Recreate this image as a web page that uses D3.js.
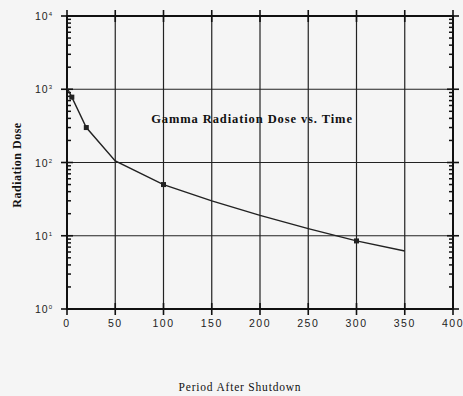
<!DOCTYPE html>
<html>
<head>
<meta charset="utf-8">
<script src="https://cdn.jsdelivr.net/npm/d3@7"></script>
<style>
  body { margin: 0; background: #f5f5f5; }
  svg { display: block; }
</style>
</head>
<body>
<script>
// data
var periods = [0, 5, 20, 50, 100, 150, 200, 250, 300, 350];
var doses = [1050, 780, 300, 105, 50, 30, 19, 12.5, 8.5, 6.2];
var markerIdx = [1, 2, 4, 8];
var xTicks = [0, 50, 100, 150, 200, 250, 300, 350, 400];
var yExps = [0, 1, 2, 3, 4];

var W = 463, H = 396;
var pLeft = 67, pRight = 453, pTop = 16, pBottom = 309;

var svg = d3.select("body").append("svg")
	.attr("width", W)
	.attr("height", H);

svg.append("rect").attr("width", W).attr("height", H).attr("fill", "#f5f5f5");

var x = d3.scaleLinear().domain([0, 400]).range([pLeft, pRight]);
var y = d3.scaleLog().domain([1, 10000]).range([pBottom, pTop]);

var g = svg.append("g");

// grid
g.selectAll(".vg").data(xTicks.slice(1, -1)).enter().append("line")
	.attr("x1", function(d) { return x(d); }).attr("x2", function(d) { return x(d); })
	.attr("y1", pTop).attr("y2", pBottom)
	.attr("stroke", "#222").attr("stroke-width", 1.2);

g.selectAll(".hg").data(yExps.slice(1, -1)).enter().append("line")
	.attr("x1", pLeft).attr("x2", pRight)
	.attr("y1", function(d) { return y(Math.pow(10, d)); })
	.attr("y2", function(d) { return y(Math.pow(10, d)); })
	.attr("stroke", "#222").attr("stroke-width", 1.2);

// frame
g.append("rect")
	.attr("x", pLeft).attr("y", pTop)
	.attr("width", pRight - pLeft).attr("height", pBottom - pTop)
	.attr("fill", "none").attr("stroke", "#111").attr("stroke-width", 2);

// minor ticks on left and right, pointing inward
var minors = [];
for (var e = 0; e < 4; e++) {
	for (var m = 2; m < 10; m++) minors.push(m * Math.pow(10, e));
}
[pLeft, pRight].forEach(function(px, i) {
	var dir = i == 0 ? 1 : -1;
	g.selectAll(".mt" + i).data(minors).enter().append("line")
		.attr("x1", px).attr("x2", px + dir * 4)
		.attr("y1", function(d) { return y(d); }).attr("y2", function(d) { return y(d); })
		.attr("stroke", "#111").attr("stroke-width", 1.5);
	// major ticks crossing the frame
	g.selectAll(".Mt" + i).data(yExps).enter().append("line")
		.attr("x1", px - 6).attr("x2", px + 6)
		.attr("y1", function(d) { return y(Math.pow(10, d)); })
		.attr("y2", function(d) { return y(Math.pow(10, d)); })
		.attr("stroke", "#111").attr("stroke-width", 1.6);
});
[pTop, pBottom].forEach(function(py, i) {
	g.selectAll(".xt" + i).data(xTicks).enter().append("line")
		.attr("x1", function(d) { return x(d); }).attr("x2", function(d) { return x(d); })
		.attr("y1", py - 6).attr("y2", py + 6)
		.attr("stroke", "#111").attr("stroke-width", 1.6);
});

// tick labels
g.selectAll(".xl").data(xTicks).enter().append("text")
	.attr("x", function(d) { return x(d); })
	.attr("y", pBottom + 18)
	.attr("text-anchor", "middle")
	.attr("font-family", "Liberation Sans, Arial, sans-serif")
	.attr("font-size", 10.5)
	.attr("letter-spacing", 1.5)
	.attr("fill", "#222")
	.text(function(d) { return d; });

var yl = g.selectAll(".yl").data(yExps).enter().append("text")
	.attr("x", pLeft - 14)
	.attr("y", function(d) { return y(Math.pow(10, d)) + 4; })
	.attr("text-anchor", "end")
	.attr("font-family", "Liberation Sans, Arial, sans-serif")
	.attr("font-size", 10.5)
	.attr("letter-spacing", 1)
	.attr("fill", "#222");
yl.append("tspan").text("10");
yl.append("tspan").attr("font-size", 6).attr("dy", -4).text(function(d) { return d; });

// curve
var line = d3.line()
	.x(function(d) { return x(d[0]); })
	.y(function(d) { return y(d[1]); })
	.curve(d3.curveLinear);
var pts = periods.map(function(p, i) { return [p, doses[i]]; });

g.append("path").datum(pts)
	.attr("d", line)
	.attr("fill", "none")
	.attr("stroke", "#222")
	.attr("stroke-width", 1.4);

g.selectAll(".pt").data(markerIdx).enter().append("rect")
	.attr("x", function(i) { return x(periods[i]) - 2.5; })
	.attr("y", function(i) { return y(doses[i]) - 2.5; })
	.attr("width", 5).attr("height", 5)
	.attr("fill", "#222");

// titles
svg.append("text")
	.attr("x", 252).attr("y", 123)
	.attr("text-anchor", "middle")
	.attr("font-family", "Liberation Serif, Times New Roman, serif")
	.attr("font-weight", "bold")
	.attr("font-size", 12.5)
	.attr("letter-spacing", 0.9)
	.attr("fill", "#111")
	.text("Gamma Radiation Dose vs. Time");

svg.append("text")
	.attr("transform", "translate(21," + 165 + ") rotate(-90)")
	.attr("text-anchor", "middle")
	.attr("font-family", "Liberation Serif, Times New Roman, serif")
	.attr("font-weight", "bold")
	.attr("font-size", 12)
	.attr("letter-spacing", 0.5)
	.attr("fill", "#111")
	.text("Radiation Dose");

svg.append("text")
	.attr("x", 240).attr("y", 391)
	.attr("text-anchor", "middle")
	.attr("font-family", "Liberation Serif, Times New Roman, serif")
	.attr("font-size", 11.5)
	.attr("letter-spacing", 0.8)
	.attr("fill", "#111")
	.text("Period After Shutdown");
</script>
</body>
</html>
